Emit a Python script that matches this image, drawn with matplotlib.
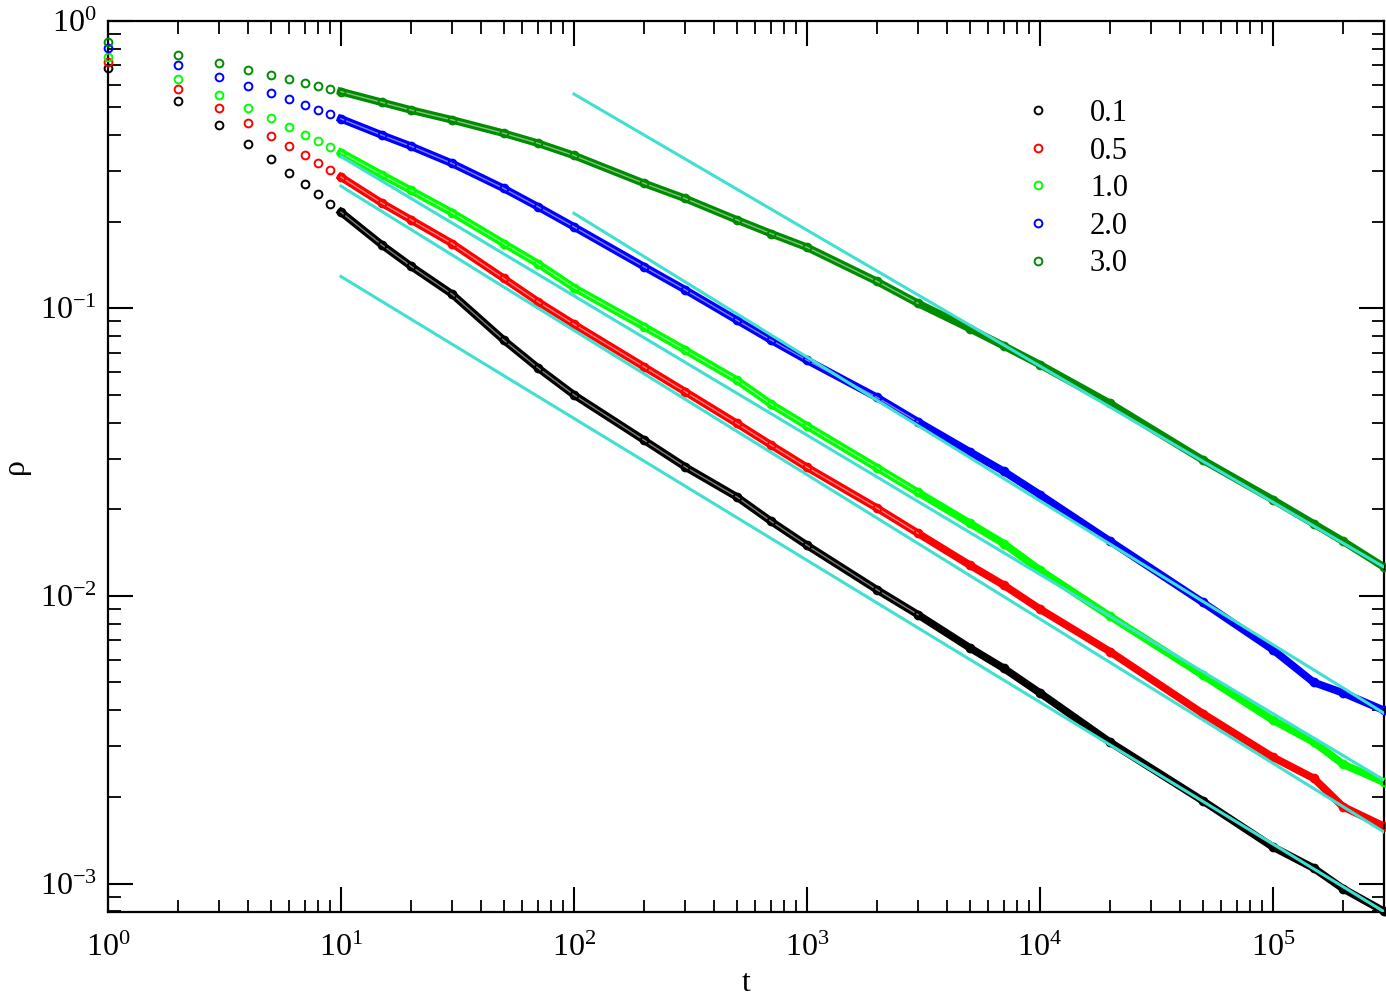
import numpy as np
import matplotlib.pyplot as plt
from matplotlib.ticker import LogLocator, NullFormatter

plt.rcParams['font.family'] = 'Liberation Serif'
plt.rcParams['mathtext.fontset'] = 'custom'
plt.rcParams['mathtext.rm'] = 'Liberation Serif'
plt.rcParams['mathtext.it'] = 'Liberation Serif:italic'
plt.rcParams['axes.unicode_minus'] = False

# time steps
t = [1, 2, 3, 4, 5, 6, 7, 8, 9, 10, 15, 20, 30, 50, 70, 100, 200, 300, 500, 700,
     1e3, 2e3, 3e3, 5e3, 7e3, 1e4, 2e4, 5e4, 1e5, 1.5e5, 2e5, 3e5]

rho_01 = [0.684, 0.527, 0.435, 0.374, 0.330, 0.296, 0.270, 0.249, 0.231, 0.216,
          0.166, 0.140, 0.112, 0.0775, 0.0621, 0.050, 0.0348, 0.0281, 0.0221, 0.0182,
          0.0150, 0.0105, 0.0086, 0.0066, 0.0056, 0.0046, 0.0031, 0.00194, 0.00134,
          0.00113, 0.00096, 0.00080]
rho_05 = [0.717, 0.579, 0.496, 0.440, 0.397, 0.367, 0.341, 0.319, 0.302, 0.286,
          0.232, 0.203, 0.168, 0.127, 0.1055, 0.088, 0.0626, 0.0513, 0.0398, 0.0335,
          0.0280, 0.0202, 0.0165, 0.0128, 0.0109, 0.0090, 0.0064, 0.0039, 0.00275,
          0.00232, 0.00185, 0.00158]
rho_10 = [0.750, 0.625, 0.550, 0.498, 0.459, 0.427, 0.401, 0.381, 0.364, 0.348,
          0.291, 0.257, 0.215, 0.168, 0.143, 0.118, 0.0863, 0.0716, 0.0563, 0.0465,
          0.0390, 0.0279, 0.0229, 0.0179, 0.0152, 0.0123, 0.0085, 0.0053, 0.0037,
          0.0031, 0.0026, 0.00225]
rho_20 = [0.802, 0.700, 0.637, 0.593, 0.560, 0.533, 0.508, 0.489, 0.473, 0.456,
          0.400, 0.366, 0.319, 0.261, 0.2255, 0.192, 0.1395, 0.116, 0.091, 0.0776,
          0.066, 0.049, 0.0403, 0.0317, 0.0271, 0.0225, 0.0155, 0.0095, 0.0065,
          0.0050, 0.0046, 0.0040]
rho_30 = [0.841, 0.760, 0.711, 0.674, 0.646, 0.626, 0.606, 0.592, 0.577, 0.567,
          0.520, 0.489, 0.452, 0.406, 0.375, 0.340, 0.272, 0.241, 0.203, 0.182,
          0.163, 0.124, 0.104, 0.085, 0.074, 0.0637, 0.0467, 0.0297, 0.0216,
          0.0178, 0.0155, 0.0126]

labels = ['0.1', '0.5', '1.0', '2.0', '3.0']
colors = ['black', '#ff0000', '#00ff00', '#0000ff', '#008b00']
series = [rho_01, rho_05, rho_10, rho_20, rho_30]

# power-law guide lines: start / end points
fit_t0 = [10, 10, 10, 100, 100]
fit_t1 = [3e5, 3e5, 3e5, 3e5, 3e5]
fit_y0 = [0.129, 0.266, 0.337, 0.214, 0.556]
fit_y1 = [7.98e-4, 1.51e-3, 2.29e-3, 3.91e-3, 1.26e-2]

fig = plt.figure(figsize=(13.86, 9.98), dpi=100)
ax = fig.add_axes([108/1386, 1-912/998, 1276/1386, 891.3/998])

tt = np.array(t)
dense = tt >= 10
hollow = (tt >= 10) & (tt <= 3000)
for y, c, lab in zip(series, colors, labels):
    y = np.array(y)
    # overlapping circles at large t look like a thick band
    ax.plot(tt[dense], y[dense], color=c, lw=5.5, zorder=2, clip_on=False)
    ax.plot(tt[hollow], y[hollow], color='white', lw=1.0, alpha=0.5, zorder=2.5)
    ax.plot(tt, y, ls='none', marker='o', ms=5.6, mfc='none', mec=c, mew=1.4,
            zorder=3, clip_on=False, label=lab)

for a, b, ya, yb in zip(fit_t0, fit_t1, fit_y0, fit_y1):
    ax.plot([a, b], [ya, yb], color='#40e0d0', lw=2.2, zorder=4)

ax.set_xscale('log')
ax.set_yscale('log')
ax.set_xlim(1, 3e5)
ax.set_ylim(7.96e-4, 1)

for axis in (ax.xaxis, ax.yaxis):
    axis.set_major_locator(LogLocator(base=10, numticks=20))
    axis.set_minor_locator(LogLocator(base=10, subs=np.arange(2, 10), numticks=20))
    axis.set_minor_formatter(NullFormatter())

ax.tick_params(which='both', direction='in', top=True, right=True)
ax.tick_params(which='major', length=18, width=1.5, labelsize=23)
ax.tick_params(axis='x', which='major', pad=16)
ax.tick_params(axis='y', which='major', pad=8)
ax.tick_params(which='minor', length=9, width=1.3)
for s in ax.spines.values():
    s.set_linewidth(1.6)

ax.set_xlabel('t', fontsize=23)
ax.set_ylabel('ρ', fontsize=23)
ax.xaxis.set_label_coords(0.5, -0.064)
ax.yaxis.set_label_coords(-0.061, 0.5)

ax.legend(loc='upper left', bbox_to_anchor=(1023/1386, 1-99/998),
          bbox_transform=fig.transFigure, frameon=False, numpoints=1,
          handlelength=1.0, handletextpad=1.19, labelspacing=0.28,
          borderpad=0, borderaxespad=0, fontsize=22)

fig.savefig('out.png', dpi=100)
